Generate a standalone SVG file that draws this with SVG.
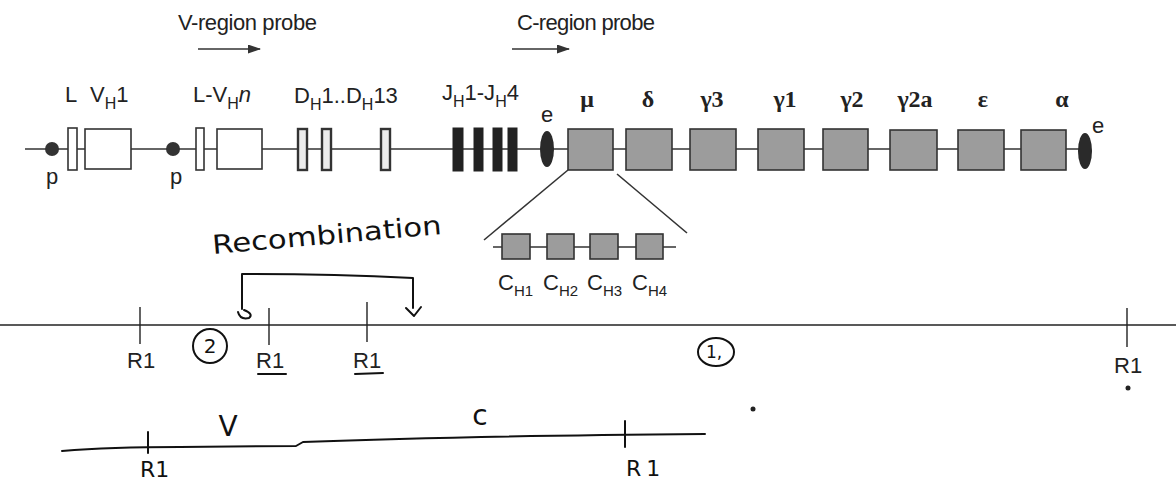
<svg xmlns="http://www.w3.org/2000/svg" width="1176" height="482" viewBox="0 0 1176 482">
<style>
.sans{font-family:"Liberation Sans",Arial,sans-serif;fill:#222}
.lbl{font-size:22px}
.sub{font-size:16px}
.gr{font-family:"Liberation Serif","Times New Roman",serif;font-weight:bold;font-size:24px;fill:#222}
.hand{font-family:"DejaVu Sans",sans-serif;fill:#111}
.ln{stroke:#333;stroke-width:1.6;fill:none}
.wbox{fill:#fff;stroke:#333;stroke-width:1.6}
.dbox{fill:#ececec;stroke:#333;stroke-width:2.4}
.jbox{fill:#222;stroke:#222}
.cbox{fill:#9c9c9c;stroke:#333;stroke-width:1.6}
.hl{stroke:#111;stroke-width:2;fill:none;stroke-linecap:round;stroke-linejoin:round}
.tick{stroke:#222;stroke-width:1.4}
.r1{font-size:22px}
</style>
<defs>
<marker id="ah" markerWidth="13" markerHeight="9" refX="12" refY="4.5" orient="auto" markerUnits="userSpaceOnUse">
<path d="M0,0 L13,4.5 L0,9 Z" fill="#333"/>
</marker>
</defs>

<g id="connectors">
<line class="ln" x1="25" y1="149" x2="1080" y2="149"/>
<line class="ln" x1="198" y1="49" x2="260" y2="49" marker-end="url(#ah)" stroke-width="2.2"/>
<line class="ln" x1="512" y1="49" x2="569" y2="49" marker-end="url(#ah)" stroke-width="2.2"/>
<line class="ln" x1="568" y1="170" x2="484" y2="240"/>
<line class="ln" x1="617" y1="174" x2="687" y2="233"/>
<line class="ln" x1="493" y1="247" x2="676" y2="247"/>
<line x1="0" y1="325" x2="1176" y2="325" stroke="#222" stroke-width="1.5"/>
<path class="hl" d="M242,309 L242,274 Q330,274 413,278 L413,308"/>
<path class="hl" d="M238,312 Q240,320 249,318 Q254,314 244,310"/>
<path class="hl" d="M406,308 L414,316 L421,307"/>
<path class="hl" d="M62,451 Q110,447 180,447 L296,446 L303,442 Q460,436 705,434"/>
</g>

<g id="probe-labels">
<text class="sans lbl" x="178" y="30" textLength="139">V-region probe</text>
<text class="sans lbl" x="517" y="30" textLength="138">C-region probe</text>
</g>

<g id="p1"><circle cx="52" cy="149" r="7" fill="#333"/><text class="sans lbl" x="52" y="184" text-anchor="middle">p</text></g>
<g id="L1"><rect class="wbox" x="68" y="128" width="9" height="42"/><text class="sans lbl" x="65" y="102">L</text></g>
<g id="VH1"><rect class="wbox" x="85" y="129" width="46" height="40"/><text class="sans lbl" x="90" y="102">V<tspan class="sub" dy="7">H</tspan><tspan dy="-7">1</tspan></text></g>
<g id="p2"><circle cx="173" cy="149" r="7" fill="#333"/><text class="sans lbl" x="176" y="184" text-anchor="middle">p</text></g>
<g id="L-VHn"><rect class="wbox" x="196" y="128" width="8" height="42"/><rect class="wbox" x="217" y="129" width="45" height="40"/><text class="sans lbl" x="193" y="102">L-V<tspan class="sub" dy="7">H</tspan><tspan dy="-7" font-style="italic">n</tspan></text></g>
<g id="DH"><rect class="dbox" x="298" y="129" width="9" height="41"/><rect class="dbox" x="322" y="129" width="9" height="41"/><rect class="dbox" x="381" y="129" width="9" height="41"/><text class="sans lbl" x="294" y="103">D<tspan class="sub" dy="7">H</tspan><tspan dy="-7">1..D</tspan><tspan class="sub" dy="7">H</tspan><tspan dy="-7">13</tspan></text></g>
<g id="JH"><rect class="jbox" x="453" y="128" width="10" height="43"/><rect class="jbox" x="474" y="128" width="9" height="43"/><rect class="jbox" x="493" y="128" width="9" height="43"/><rect class="jbox" x="508" y="128" width="9" height="43"/><text class="sans lbl" x="442" y="100">J<tspan class="sub" dy="7">H</tspan><tspan dy="-7">1-J</tspan><tspan class="sub" dy="7">H</tspan><tspan dy="-7">4</tspan></text></g>
<g id="e1"><ellipse cx="547" cy="149" rx="7" ry="18" fill="#2a2a2a"/><text class="sans lbl" x="547" y="122" text-anchor="middle">e</text></g>
<g id="mu"><rect class="cbox" x="568" y="129" width="45" height="41"/><text class="gr" x="587" y="107" text-anchor="middle">μ</text></g>
<g id="delta"><rect class="cbox" x="626" y="129" width="46" height="41"/><text class="gr" x="648" y="107" text-anchor="middle">δ</text></g>
<g id="gamma3"><rect class="cbox" x="690" y="129" width="46" height="41"/><text class="gr" x="712" y="107" text-anchor="middle">γ3</text></g>
<g id="gamma1"><rect class="cbox" x="758" y="129" width="46" height="41"/><text class="gr" x="785" y="107" text-anchor="middle">γ1</text></g>
<g id="gamma2"><rect class="cbox" x="823" y="129" width="45" height="41"/><text class="gr" x="852" y="107" text-anchor="middle">γ2</text></g>
<g id="gamma2a"><rect class="cbox" x="890" y="130" width="47" height="40"/><text class="gr" x="915" y="107" text-anchor="middle">γ2a</text></g>
<g id="epsilon"><rect class="cbox" x="958" y="130" width="46" height="40"/><text class="gr" x="983" y="107" text-anchor="middle">ε</text></g>
<g id="alpha"><rect class="cbox" x="1021" y="130" width="45" height="40"/><text class="gr" x="1062" y="107" text-anchor="middle">α</text></g>
<g id="e2"><ellipse cx="1085" cy="151" rx="7" ry="18" fill="#2a2a2a"/><text class="sans lbl" x="1098" y="133" text-anchor="middle">e</text></g>

<g id="CH-domains">
<rect class="cbox" x="502" y="234" width="28" height="25"/>
<rect class="cbox" x="547" y="234" width="27" height="25"/>
<rect class="cbox" x="590" y="234" width="28" height="25"/>
<rect class="cbox" x="636" y="234" width="27" height="25"/>
<text class="sans" font-size="22" x="498" y="290">C<tspan font-size="15" dy="6">H1</tspan></text>
<text class="sans" font-size="22" x="543" y="290">C<tspan font-size="15" dy="6">H2</tspan></text>
<text class="sans" font-size="22" x="587" y="290">C<tspan font-size="15" dy="6">H3</tspan></text>
<text class="sans" font-size="22" x="632" y="290">C<tspan font-size="15" dy="6">H4</tspan></text>
</g>

<g id="recombination">
<text class="hand" font-size="26" x="213" y="254" textLength="230" lengthAdjust="spacingAndGlyphs" transform="rotate(-5 213 254)">Recombination</text>
</g>

<g id="R1-sites">
<line class="tick" x1="140" y1="307" x2="140" y2="344"/>
<text class="sans r1" x="127" y="368">R1</text>
<line class="tick" x1="269" y1="308" x2="269" y2="345"/>
<text class="sans r1" x="256" y="368">R1</text>
<path class="hl" d="M258,374 L286,374" stroke-width="1.6"/>
<line class="tick" x1="367" y1="302" x2="367" y2="342"/>
<text class="sans r1" x="353" y="368">R1</text>
<path class="hl" d="M355,374 L383,373" stroke-width="1.6"/>
<line class="tick" x1="1127" y1="308" x2="1127" y2="347"/>
<text class="sans r1" x="1114" y="373">R1</text>
<circle cx="1128" cy="388" r="2.5" fill="#222"/>
</g>

<g id="circle-2">
<ellipse class="hl" cx="210" cy="346" rx="17" ry="17" stroke-width="1.8"/>
<text class="hand" font-size="20" x="210" y="353" text-anchor="middle">2</text>
</g>
<g id="circle-1">
<ellipse class="hl" cx="716" cy="352" rx="18" ry="14" stroke-width="1.8"/>
<text class="hand" font-size="17" x="714" y="358" text-anchor="middle">1,</text>
</g>

<g id="bottom-sketch">
<line class="hl" x1="148" y1="432" x2="148" y2="453" stroke-width="1.8"/>
<line class="hl" x1="625" y1="421" x2="625" y2="447" stroke-width="1.8"/>
<text class="hand" font-size="28" x="228" y="436" text-anchor="middle">V</text>
<text class="hand" font-size="28" x="480" y="425" text-anchor="middle">c</text>
<text class="hand" font-size="22" x="140" y="477">R1</text>
<text class="hand" font-size="22" x="626" y="476" letter-spacing="5">R1</text>
<circle cx="753" cy="409" r="2.5" fill="#222"/>
</g>
</svg>
